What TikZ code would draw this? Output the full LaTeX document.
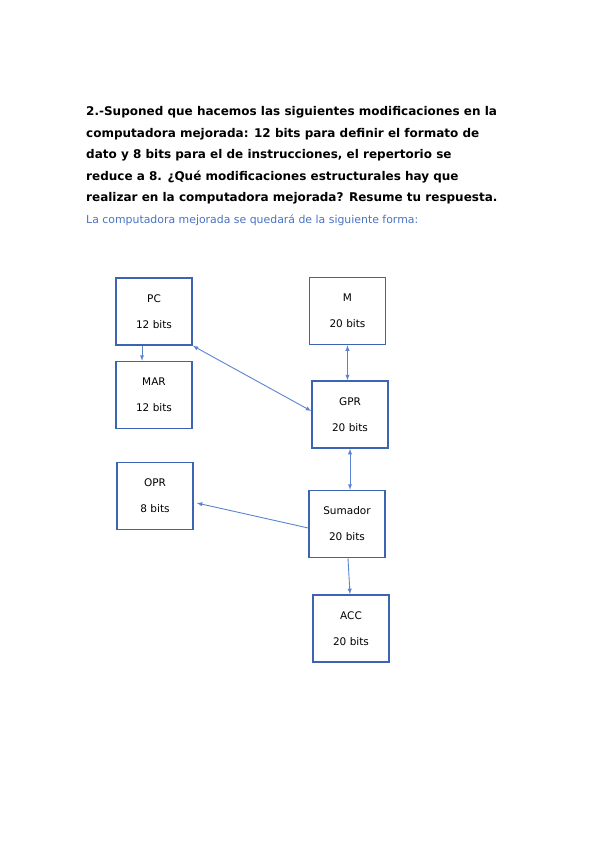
\documentclass[tikz,border=0pt]{standalone}
\usepackage{fontspec}
\setmainfont{DejaVu Sans}
\usetikzlibrary{arrows,positioning}
\definecolor{boxblue}{HTML}{3D64B0}
\definecolor{linkblue}{HTML}{5B84D0}
\definecolor{noteblue}{HTML}{4A73C4}

\begin{document}
\begin{tikzpicture}[
    x=1pt, y=-1pt,
    reg/.style={draw=boxblue, line width=1.5pt, rectangle, minimum width=76pt, minimum height=67pt, align=center, inner sep=0pt, font=\fontsize{10.5}{12}\selectfont},
    link/.style={draw=linkblue, line width=0.9pt, >=latex}
]
    \useasboundingbox[fill=white] (0,0) rectangle (599,848);

    % Question
    \node[anchor=north west, align=left, inner sep=0pt, font=\bfseries\fontsize{12}{21.5}\selectfont] (question) at (86,106.5)
        {2.-Suponed que hacemos las siguientes modificaciones en la\\
         computadora mejorada: 12 bits para definir el formato de\\
         dato y 8 bits para el de instrucciones, el repertorio se\\
         reduce a 8. ¿Qué modificaciones estructurales hay que\\
         realizar en la computadora mejorada? Resume tu respuesta.};
    \node[anchor=base west, inner sep=0pt, text=noteblue, font=\fontsize{10.9}{12}\selectfont] (answer) at (86,223)
        {La computadora mejorada se quedará de la siguiente forma:};

    % Registers
    \node[reg] (pc) at (154,311.5) {PC\\[14pt]12 bits};
    \node[reg, below=15pt of pc] (mar) {MAR\\[14pt]12 bits};
    \node[reg] (mem) at (347.5,311) {M\\[14pt]20 bits};
    \node[reg, below=35pt of mem, xshift=2.5pt] (gpr) {GPR\\[14pt]20 bits};
    \node[reg] (opr) at (155,496) {OPR\\[14pt]8 bits};
    \node[reg, below=41pt of gpr, xshift=-3pt] (sum) {Sumador\\[14pt]20 bits};
    \node[reg, below=36pt of sum, xshift=4pt] (acc) {ACC\\[14pt]20 bits};

    % Connections
    \draw[link, ->] ([xshift=-12pt]pc.south) -- ([xshift=-12pt]mar.north);
    \draw[link, <->] (pc.south east) -- ([yshift=3.5pt]gpr.west);
    \draw[link, <->] (mem.south) -- (mem.south |- gpr.north);
    \draw[link, <->] (gpr.south) -- (gpr.south |- sum.north);
    \draw[link, ->] ([yshift=-4pt]sum.west) -- ([xshift=3pt, yshift=-7pt]opr.east);
    \draw[link, ->] ([xshift=1pt]sum.south) -- ([xshift=-1pt]acc.north);
\end{tikzpicture}
\end{document}
